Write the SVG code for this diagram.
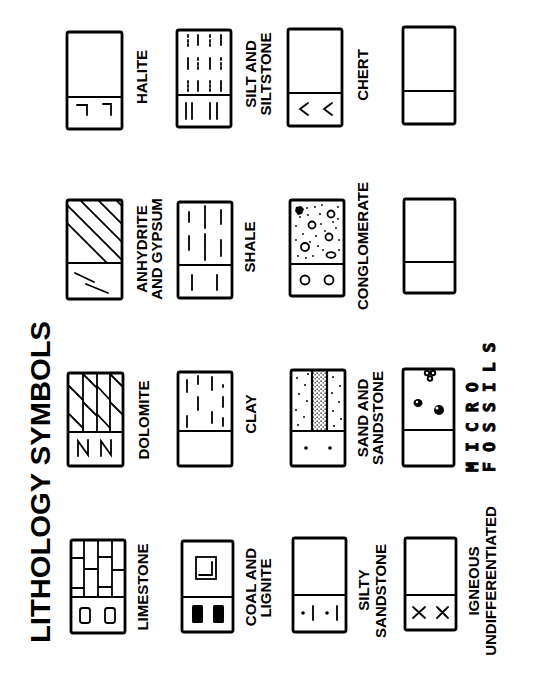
<svg xmlns="http://www.w3.org/2000/svg" width="533" height="684" viewBox="0 0 533 684">
<defs>
<style>
.b{fill:none;stroke:#000;stroke-width:2.8;stroke-linejoin:round}
.d{stroke:#000;stroke-width:2.2}
.p{fill:none;stroke:#000;stroke-width:1.8;stroke-linecap:round}
.f{fill:#000}
.l{font-family:"Liberation Sans",Arial,sans-serif;font-weight:bold;font-size:15px;fill:#000;text-anchor:middle}
.t{font-family:"Liberation Sans",Arial,sans-serif;font-weight:bold;font-size:28.5px;fill:#000;text-anchor:middle}
.m{font-family:"DejaVu Sans Mono","Liberation Mono",monospace;font-weight:bold;font-size:16.5px;fill:#000;stroke:#000;stroke-width:0.9;letter-spacing:10px}
</style>
<pattern id="stip" width="4" height="4" patternUnits="userSpaceOnUse">
<rect x="0.5" y="0.5" width="1.3" height="1.3" fill="#000"/>
<rect x="2.5" y="2.3" width="1.2" height="1.2" fill="#000"/>
</pattern>
<clipPath id="anhC"><rect x="67" y="200" width="55" height="63"/></clipPath>
</defs>
<rect width="533" height="684" fill="#fff"/>

<text class="t" transform="translate(50,482) rotate(-90)" textLength="322" lengthAdjust="spacingAndGlyphs">LITHOLOGY SYMBOLS</text>

<g id="halite">
<rect class="b" x="67" y="32" width="55" height="97" rx="2"/>
<line class="d" x1="67" y1="97" x2="122" y2="97"/>
<path class="p" d="M77 105 H87 V115 M103 104 H111 V115"/>
<text class="l" transform="translate(147,77) rotate(-90)">HALITE</text>
</g>

<g id="silt">
<rect class="b" x="177" y="30" width="54" height="97" rx="2"/>
<line class="d" x1="177" y1="95" x2="231" y2="95"/>
<path class="p" d="M188 35v2M188 40v2M188 44v2 M198 35v10 M210 35v2M210 40v2M210 44v2 M221 35v10
M188 58v11 M198 58v2M198 63v2M198 67v2 M210 58v11 M221 58v2M221 63v2M221 67v2
M188 81v2M188 85v2M188 89v2 M198 81v10 M210 81v2M210 85v2M210 89v2 M221 81v10
M186 103v16 M192 103v16 M210 103v16 M217 103v16"/>
<text class="l" transform="translate(256,74) rotate(-90)">SILT AND</text>
<text class="l" transform="translate(271,74) rotate(-90)">SILTSTONE</text>
</g>

<g id="chert">
<rect class="b" x="288" y="29" width="54" height="97" rx="2"/>
<line class="d" x1="288" y1="93" x2="342" y2="93"/>
<path class="p" d="M308 103 L300 109 L308 115 M332 103 L324 109 L332 115"/>
<text class="l" transform="translate(368,75) rotate(-90)">CHERT</text>
</g>

<g id="empty1">
<rect class="b" x="403" y="27" width="52" height="97" rx="2"/>
<line class="d" x1="403" y1="91" x2="455" y2="91"/>
</g>

<g id="anhydrite">
<rect class="b" x="67" y="200" width="55" height="99" rx="2"/>
<line class="d" x1="67" y1="263" x2="122" y2="263"/>
<g clip-path="url(#anhC)">
<path class="p" d="M40 196 L110 266 M58 196 L128 266 M76 196 L146 266 M94 196 L164 266 M112 196 L182 266"/>
</g>
<path class="p" d="M75 273 L94 282 M86 284 L108 293"/>
<text class="l" transform="translate(147,249) rotate(-90)">ANHYDRITE</text>
<text class="l" transform="translate(162,249) rotate(-90)">AND GYPSUM</text>
</g>

<g id="shale">
<rect class="b" x="178" y="202" width="54" height="96" rx="2"/>
<line class="d" x1="178" y1="265" x2="232" y2="265"/>
<path class="p" d="M205 206 V228 M205 234 V260 M189 212 V222 M189 236 V250 M221 210 V224 M221 240 V256"/>
<path class="p" d="M192 275 V290 M217 275 V290"/>
<text class="l" transform="translate(255,247) rotate(-90)">SHALE</text>
</g>

<g id="conglomerate">
<rect class="b" x="290" y="200" width="54" height="96" rx="2"/>
<line class="d" x1="290" y1="264" x2="344" y2="264"/>
<path class="f" d="M296 207 l5 -1 l3 3 l-2 5 l-4 1 l-3 -4 z"/>
<circle class="p" cx="331" cy="214" r="3.5"/>
<circle class="p" cx="312" cy="225" r="3.5"/>
<circle class="p" cx="329" cy="237" r="3.5"/>
<circle class="p" cx="305" cy="247" r="4"/>
<ellipse class="p" cx="331" cy="255" rx="4.5" ry="2.8"/>
<g class="f">
<circle cx="307" cy="208" r="0.9"/><circle cx="315" cy="207" r="0.9"/><circle cx="322" cy="205" r="0.9"/><circle cx="338" cy="207" r="0.9"/>
<circle cx="300" cy="217" r="0.9"/><circle cx="308" cy="215" r="0.9"/><circle cx="320" cy="214" r="1"/><circle cx="338" cy="219" r="0.9"/>
<circle cx="296" cy="226" r="0.9"/><circle cx="321" cy="224" r="0.9"/><circle cx="336" cy="228" r="0.9"/><circle cx="303" cy="234" r="0.9"/>
<circle cx="316" cy="236" r="1"/><circle cx="339" cy="240" r="0.9"/><circle cx="296" cy="240" r="0.9"/><circle cx="318" cy="246" r="0.9"/>
<circle cx="323" cy="250" r="0.9"/><circle cx="313" cy="256" r="0.9"/><circle cx="298" cy="256" r="0.9"/><circle cx="339" cy="250" r="0.9"/>
<circle cx="306" cy="258" r="0.9"/><circle cx="325" cy="231" r="0.9"/><circle cx="310" cy="242" r="0.9"/><circle cx="333" cy="222" r="0.9"/>
</g>
<circle class="p" cx="305" cy="280" r="4.5"/>
<circle class="p" cx="329" cy="280" r="4.5"/>
<text class="l" transform="translate(368,246) rotate(-90)">CONGLOMERATE</text>
</g>

<g id="empty2">
<rect class="b" x="404" y="199" width="51" height="94" rx="2"/>
<line class="d" x1="404" y1="262" x2="455" y2="262"/>
</g>

<g id="dolomite">
<rect class="b" x="68" y="373" width="55" height="93" rx="2"/>
<line class="d" x1="68" y1="432" x2="123" y2="432"/>
<path class="p" d="M83 373 V432 M97 373 V432 M110 373 V432"/>
<path class="p" d="M69 386 L83 400 M69 414 L83 428 M83 374 L97 388 M83 402 L97 416 M97 386 L110 400 M97 414 L110 428 M110 374 L123 387 M110 402 L123 415"/>
<path class="p" d="M78 456 V441 L88 455 V440 M101 456 V441 L111 455 V440"/>
<text class="l" transform="translate(149,420) rotate(-90)">DOLOMITE</text>
</g>

<g id="clay">
<rect class="b" x="178" y="372" width="54" height="94" rx="2"/>
<line class="d" x1="178" y1="431" x2="232" y2="431"/>
<path class="p" d="M187 380 V392 M187 416 V427 M198 397 V410 M212 377 V390 M212 412 V423 M223 385 V387 M223 397 V407 M223 418 V426 M198 376 V384"/>
<text class="l" transform="translate(256,414) rotate(-90)">CLAY</text>
</g>

<g id="sand">
<rect class="b" x="291" y="370" width="54" height="96" rx="2"/>
<line class="d" x1="291" y1="431" x2="345" y2="431"/>
<line class="d" x1="312" y1="370" x2="312" y2="431"/>
<line class="d" x1="327" y1="370" x2="327" y2="431"/>
<rect x="313" y="371" width="13" height="59" fill="url(#stip)"/>
<g class="f">
<circle cx="297" cy="378" r="1"/><circle cx="305" cy="385" r="1"/><circle cx="299" cy="394" r="1"/><circle cx="307" cy="401" r="1"/>
<circle cx="296" cy="410" r="1"/><circle cx="304" cy="417" r="1"/><circle cx="298" cy="425" r="1"/><circle cx="308" cy="374" r="1"/>
<circle cx="333" cy="377" r="1"/><circle cx="340" cy="386" r="1"/><circle cx="332" cy="393" r="1"/><circle cx="339" cy="402" r="1"/>
<circle cx="333" cy="411" r="1"/><circle cx="341" cy="419" r="1"/><circle cx="334" cy="426" r="1"/>
<circle cx="306" cy="448" r="1.8"/><circle cx="330" cy="448" r="1.8"/>
</g>
<text class="l" transform="translate(368,418) rotate(-90)">SAND AND</text>
<text class="l" transform="translate(383,418) rotate(-90)">SANDSTONE</text>
</g>

<g id="microfossils">
<rect class="b" x="403" y="369" width="51" height="97" rx="2"/>
<line class="d" x1="403" y1="430" x2="454" y2="430"/>
<g class="f">
<circle cx="427" cy="373" r="3.2"/><circle cx="433" cy="373" r="3.2"/><circle cx="430" cy="378.5" r="3.2"/>
<ellipse cx="418" cy="403" rx="4.5" ry="4"/>
<circle cx="439" cy="410" r="5"/>
</g>
<g fill="#fff"><circle cx="427" cy="373" r="1.2"/><circle cx="433" cy="373" r="1.2"/><circle cx="430" cy="378.5" r="1.2"/><circle cx="437" cy="408" r="1.5"/><circle cx="417" cy="402" r="1.2"/></g>
<text class="m" transform="translate(478,472) rotate(-90)">MICRO</text>
<text class="m" transform="translate(495,472) rotate(-90)">FOSSILS</text>
</g>

<g id="limestone">
<rect class="b" x="71" y="540" width="54" height="93" rx="2"/>
<line class="d" x1="71" y1="597" x2="125" y2="597"/>
<path class="p" d="M84 540 V597 M98 540 V597 M112 540 V597 M71 558 H84 M71 588 H84 M84 569 H98 M98 557 H112 M98 587 H112 M112 570 H125"/>
<rect class="p" x="80" y="608" width="10" height="15" rx="2.5"/>
<rect class="p" x="105" y="608" width="10" height="15" rx="2.5"/>
<text class="l" transform="translate(148,587) rotate(-90)">LIMESTONE</text>
</g>

<g id="coal">
<rect class="b" x="182" y="541" width="51" height="91" rx="2"/>
<line class="d" x1="182" y1="597" x2="233" y2="597"/>
<rect class="p" x="196" y="557" width="20" height="22"/>
<path class="p" d="M199 575 H212 V562"/>
<rect class="f" x="192" y="605" width="11" height="18" rx="1.5"/>
<rect class="f" x="213" y="605" width="11" height="18" rx="1.5"/>
<text class="l" transform="translate(256,587) rotate(-90)">COAL AND</text>
<text class="l" transform="translate(271,588) rotate(-90)">LIGNITE</text>
</g>

<g id="siltysandstone">
<rect class="b" x="293" y="538" width="53" height="94" rx="2"/>
<line class="d" x1="293" y1="595" x2="346" y2="595"/>
<circle class="f" cx="303" cy="613" r="1.8"/><circle class="f" cx="327" cy="613" r="1.8"/>
<path class="p" d="M313 606 V620 M337 606 V620"/>
<text class="l" transform="translate(369,590) rotate(-90)">SILTY</text>
<text class="l" transform="translate(386,591) rotate(-90)">SANDSTONE</text>
</g>

<g id="igneous">
<rect class="b" x="405" y="538" width="51" height="92" rx="2"/>
<line class="d" x1="405" y1="595" x2="456" y2="595"/>
<path class="p" d="M413 607 L425 618 M425 607 L413 618 M437 607 L448 618 M448 607 L437 618"/>
<text class="l" transform="translate(479,581) rotate(-90)">IGNEOUS</text>
<text class="l" transform="translate(496,581) rotate(-90)">UNDIFFERENTIATED</text>
</g>
</svg>
